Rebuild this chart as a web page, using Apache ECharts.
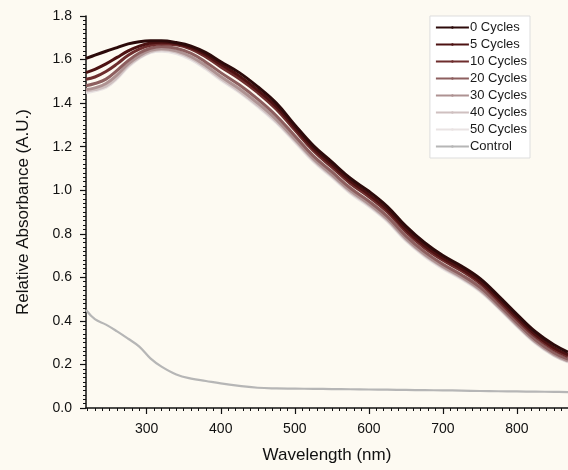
<!DOCTYPE html>
<html>
<head>
<meta charset="utf-8">
<script src="https://cdn.jsdelivr.net/npm/echarts@6/dist/echarts.min.js"></script>
<style>
  html, body { margin: 0; padding: 0; background: #fdfaf2; }
  #main { width: 568px; height: 470px; }
</style>
</head>
<body>
<div id="main"></div>
<script>
// wavelength (nm)
var wavelengths = [218, 230, 245, 260, 275, 290, 305, 320, 340, 360, 380, 400, 425, 450, 475, 500,
  525, 550, 575, 600, 625, 650, 675, 700, 725, 750, 775, 800, 825, 850, 869];

var cycles0 = [1.605, 1.62, 1.638, 1.655, 1.672, 1.682, 1.686, 1.686, 1.678, 1.662, 1.632, 1.59, 1.54, 1.475, 1.40, 1.30,
  1.205, 1.13, 1.055, 0.995, 0.925, 0.835, 0.76, 0.70, 0.652, 0.595, 0.515, 0.43, 0.35, 0.29, 0.257];
var cycles5 = [1.54, 1.555, 1.58, 1.61, 1.64, 1.662, 1.676, 1.68, 1.674, 1.655, 1.622, 1.578, 1.525, 1.46, 1.385, 1.287,
  1.192, 1.117, 1.042, 0.981, 0.911, 0.82, 0.746, 0.688, 0.64, 0.582, 0.502, 0.417, 0.337, 0.277, 0.245];
var cycles10 = [1.51, 1.52, 1.545, 1.58, 1.62, 1.648, 1.665, 1.672, 1.668, 1.648, 1.612, 1.566, 1.512, 1.448, 1.372, 1.276,
  1.181, 1.106, 1.031, 0.97, 0.9, 0.81, 0.736, 0.678, 0.63, 0.572, 0.492, 0.407, 0.328, 0.268, 0.236];
var cycles20 = [1.48, 1.49, 1.51, 1.55, 1.595, 1.63, 1.652, 1.66, 1.652, 1.628, 1.588, 1.54, 1.484, 1.418, 1.342, 1.25,
  1.158, 1.085, 1.01, 0.95, 0.88, 0.79, 0.718, 0.66, 0.612, 0.555, 0.476, 0.392, 0.313, 0.254, 0.224];
var cycles30 = [1.462, 1.47, 1.49, 1.53, 1.58, 1.617, 1.642, 1.65, 1.64, 1.613, 1.572, 1.522, 1.466, 1.40, 1.325, 1.235,
  1.145, 1.072, 0.998, 0.938, 0.868, 0.779, 0.707, 0.65, 0.602, 0.545, 0.467, 0.383, 0.305, 0.247, 0.217];
var cycles40 = [1.455, 1.462, 1.478, 1.518, 1.572, 1.61, 1.636, 1.645, 1.634, 1.606, 1.563, 1.513, 1.456, 1.39, 1.316, 1.228,
  1.138, 1.066, 0.992, 0.932, 0.862, 0.773, 0.702, 0.645, 0.597, 0.54, 0.463, 0.379, 0.301, 0.243, 0.214];
var cycles50 = [1.448, 1.456, 1.472, 1.512, 1.566, 1.606, 1.632, 1.638, 1.628, 1.60, 1.556, 1.506, 1.45, 1.384, 1.31, 1.222,
  1.132, 1.06, 0.986, 0.926, 0.857, 0.768, 0.697, 0.64, 0.592, 0.536, 0.459, 0.375, 0.297, 0.24, 0.211];
var control = [0.45, 0.408, 0.383, 0.352, 0.318, 0.282, 0.228, 0.19, 0.154, 0.135, 0.124, 0.113, 0.102, 0.093, 0.09, 0.089,
  0.088, 0.087, 0.086, 0.085, 0.084, 0.083, 0.082, 0.081, 0.08, 0.078, 0.077, 0.076, 0.075, 0.074, 0.073];

var seriesNames = ['0 Cycles', '5 Cycles', '10 Cycles', '20 Cycles', '30 Cycles', '40 Cycles', '50 Cycles', 'Control'];
var seriesData = [cycles0, cycles5, cycles10, cycles20, cycles30, cycles40, cycles50, control];
var seriesColors = ['#2c0a0a', '#4d1212', '#6e2d2d', '#8d5f5f', '#ae9292', '#cfc0c0', '#e9e3e3', '#b6b6b6'];

var xMajorTicks = [300, 400, 500, 600, 700, 800];
var xMinorTicks = [];
for (var t = 220; t <= 860; t += 10) xMinorTicks.push(t);

function pairs(ys) {
  return wavelengths.map(function (x, i) { return [x, ys[i]]; });
}

var fontFamily = '"Liberation Sans", Arial, sans-serif';

var series = [];
// draw light curves first so the dark ones sit on top
for (var i = seriesNames.length - 1; i >= 0; i--) {
  series.push({
    name: seriesNames[i],
    type: 'line',
    smooth: 0.4,
    symbol: 'none',
    legendIcon: 'rect',
    data: pairs(seriesData[i]),
    lineStyle: { color: seriesColors[i], width: i === 7 ? 2.2 : 3 },
    itemStyle: { color: seriesColors[i] }
  });
}

var myChart = echarts.init(document.getElementById('main'));
var option = {
  backgroundColor: '#fdfaf2',
  animation: false,
  textStyle: { fontFamily: fontFamily },
  grid: { left: 86, right: 0, top: 16, bottom: 62 },
  legend: {
    data: seriesNames,
    orient: 'vertical',
    right: 38,
    top: 16,
    padding: [5, 3, 5, 5],
    backgroundColor: '#ffffff',
    borderColor: '#dddddd',
    borderWidth: 1,
    itemWidth: 33,
    itemHeight: 3,
    itemGap: 4,
    textStyle: { fontFamily: fontFamily, fontSize: 13, color: '#1a1a1a', padding: [0, 0, 0, -4] }
  },
  xAxis: [
    {
      type: 'value',
      min: 218,
      max: 869,
      name: 'Wavelength (nm)',
      nameLocation: 'middle',
      nameGap: 39,
      nameTextStyle: { fontSize: 17, color: '#111', fontFamily: fontFamily },
      axisLine: { lineStyle: { color: '#111', width: 1.5 } },
      axisTick: { customValues: xMajorTicks, length: 6, lineStyle: { color: '#111', width: 1.2 } },
      axisLabel: { customValues: xMajorTicks, fontSize: 14, color: '#111', margin: 14 },
      splitLine: { show: false }
    },
    {
      type: 'value',
      min: 218,
      max: 869,
      position: 'bottom',
      axisLine: { show: false },
      axisTick: { customValues: xMinorTicks, length: 3, lineStyle: { color: '#111', width: 1 } },
      axisLabel: { show: false },
      splitLine: { show: false }
    }
  ],
  yAxis: {
    type: 'value',
    min: 0,
    max: 1.8,
    interval: 0.2,
    name: 'Relative Absorbance (A.U.)',
    nameLocation: 'middle',
    nameGap: 54,
    nameTextStyle: { fontSize: 17, color: '#111', fontFamily: fontFamily },
    axisLine: { show: true, lineStyle: { color: '#111', width: 1.5 } },
    axisTick: { show: true, length: 6, lineStyle: { color: '#111', width: 1.2 } },
    minorTick: { show: true, splitNumber: 10, length: 3, lineStyle: { color: '#111', width: 1 } },
    axisLabel: {
      fontSize: 14, color: '#111', margin: 14,
      formatter: function (v) { return v.toFixed(1); }
    },
    splitLine: { show: false }
  },
  series: series
};

if (option && typeof option === 'object') {
  myChart.setOption(option);
}
</script>
</body>
</html>
